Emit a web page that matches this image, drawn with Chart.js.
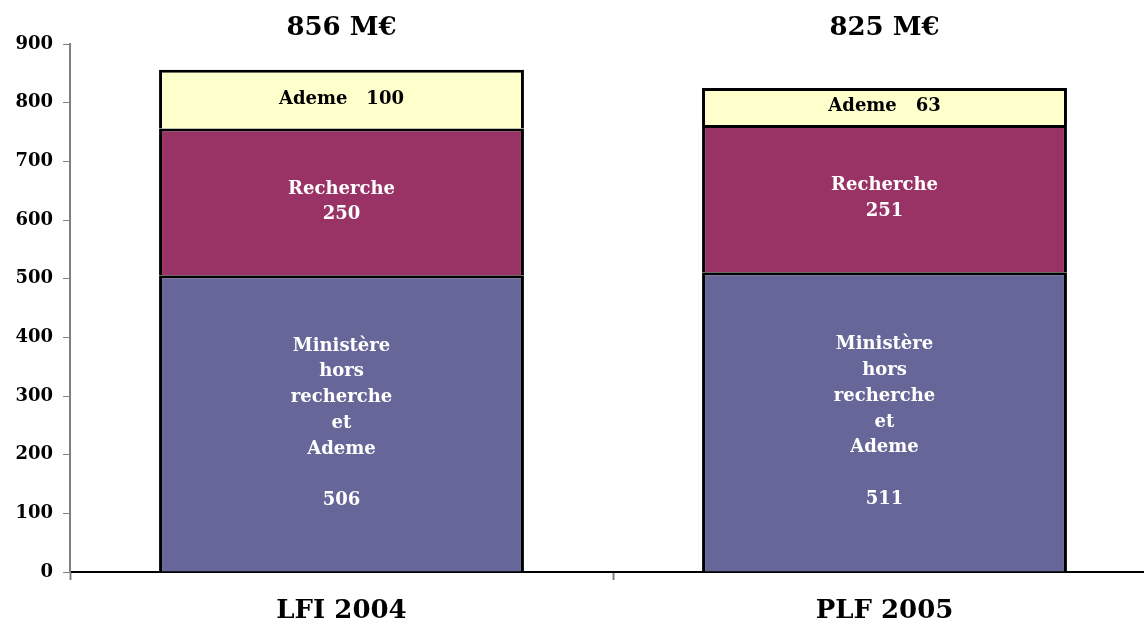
<!DOCTYPE html>
<html><head><meta charset="utf-8">
<script src="https://cdn.jsdelivr.net/npm/chart.js@4/dist/chart.umd.min.js"></script>
<style>html,body{margin:0;padding:0;background:#fff;overflow:hidden;width:1144px;height:626px}#wrap{width:1160px;height:626px;position:relative}</style>
</head><body><div id="wrap"><canvas id="c" width="1160" height="626"></canvas></div>
<script>
const categories = ["LFI 2004", "PLF 2005"];
const ministereValues = [506, 511];
const rechercheValues = [250, 251];
const ademeValues = [100, 63];
const totalLabels = ["856 M€", "825 M€"];
const ministereLabel = ["Ministère", "hors", "recherche", "et", "Ademe", ""];
const rechercheLabel = ["Recherche"];
const ademeLabel = "Ademe   ";
const yTicks = [0, 100, 200, 300, 400, 500, 600, 700, 800, 900];

const FONT = "'DejaVu Serif', Georgia, serif";

const labelPlugin = {
  id: 'labels',
  afterDatasetsDraw(chart) {
    const ctx = chart.ctx;
    ctx.save();
    ctx.textAlign = 'center';
    ctx.textBaseline = 'middle';
    const lh = 25.8;
    chart.data.datasets.forEach((ds, di) => {
      const meta = chart.getDatasetMeta(di);
      meta.data.forEach((bar, i) => {
        const mid = (bar.y + bar.base) / 2;
        const v = ds.data[i];
        let lines;
        if (di === 0) lines = ministereLabel.concat([String(v)]);
        else if (di === 1) lines = rechercheLabel.concat([String(v)]);
        else lines = [ademeLabel + v];
        ctx.fillStyle = di === 2 ? '#000' : '#fff';
        ctx.font = 'bold 18px ' + FONT;
        const n = lines.length;
        lines.forEach((t, k) => {
          ctx.fillText(t, bar.x, mid + (k - (n - 1) / 2) * lh);
        });
      });
    });
    const top = chart.getDatasetMeta(0);
    ctx.fillStyle = '#000';
    ctx.font = 'bold 26px ' + FONT;
    top.data.forEach((bar, i) => {
      ctx.fillText(totalLabels[i], bar.x, chart.chartArea.top - 16);
    });
    ctx.restore();
  }
};

new Chart(document.getElementById('c'), {
  type: 'bar',
  data: {
    labels: categories,
    datasets: [
      { label: 'Ministère hors recherche et Ademe', data: ministereValues, backgroundColor: '#666699' },
      { label: 'Recherche', data: rechercheValues, backgroundColor: '#993366' },
      { label: 'Ademe', data: ademeValues, backgroundColor: '#FFFFCC' }
    ].map(d => Object.assign(d, { borderColor: '#000', borderWidth: { top: 3, left: 3, right: 3, bottom: 0 }, borderSkipped: false, categoryPercentage: 1, barPercentage: 0.672 }))
  },
  options: {
    responsive: false,
    animation: false,
    layout: { padding: { top: 44, right: 4, left: 0, bottom: 0 } },
    plugins: { legend: { display: false }, tooltip: { enabled: false } },
    scales: {
      x: {
        stacked: true,
        grid: { drawOnChartArea: false, tickLength: 8, tickColor: '#808080', tickWidth: 2, offset: true },
        border: { color: '#000', width: 2 },
        ticks: { color: '#000', font: { family: FONT, size: 26, weight: 'bold' }, padding: 16 },
        afterFit(s) { s.height = 54; }
      },
      y: {
        stacked: true,
        min: 0, max: 900,
        afterBuildTicks(s) { s.ticks = yTicks.map(v => ({ value: v })); },
        grid: { drawOnChartArea: false, tickLength: 7, tickColor: '#808080', tickWidth: 1 },
        border: { color: '#808080', width: 2 },
        ticks: { color: '#000', font: { family: FONT, size: 18, weight: 'bold' }, padding: 10 },
        afterFit(s) { s.width = 70; }
      }
    }
  },
  plugins: [labelPlugin]
});
</script></body></html>
